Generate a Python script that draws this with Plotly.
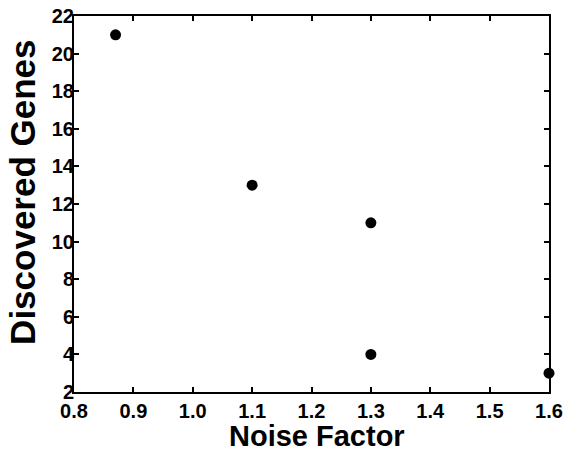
import plotly.graph_objects as go

noise_factor = [0.87, 1.1, 1.3, 1.3, 1.6]
discovered_genes = [21, 13, 11, 4, 3]

x_ticks = [0.8, 0.9, 1.0, 1.1, 1.2, 1.3, 1.4, 1.5, 1.6]
x_tick_labels = ["0.8", "0.9", "1.0", "1.1", "1.2", "1.3", "1.4", "1.5", "1.6"]
y_ticks = [2, 4, 6, 8, 10, 12, 14, 16, 18, 20, 22]

FONT = "Liberation Sans, Arial, sans-serif"

fig = go.Figure()
fig.add_trace(go.Scatter(
    x=noise_factor, y=discovered_genes, mode="markers",
    marker=dict(color="black", size=11, line=dict(width=0)),
    cliponaxis=False, showlegend=False,
))

axis_common = dict(
    showgrid=False, zeroline=False, showline=True, linecolor="black", linewidth=2,
    mirror="allticks", ticks="inside", ticklen=5, tickwidth=1.5, tickcolor="black",
    tickfont=dict(family=FONT, size=20, color="black", weight="bold"),
    automargin=False,
)

fig.update_xaxes(range=[0.8, 1.6], tickvals=x_ticks, ticktext=x_tick_labels, **axis_common)
fig.update_yaxes(range=[2, 22], tickvals=y_ticks, ticklabelstandoff=-6, **axis_common)

fig.add_annotation(
    text="<b>Noise Factor</b>", xref="paper", yref="paper",
    x=0.512, y=-0.117, xanchor="center", yanchor="middle", showarrow=False,
    font=dict(family=FONT, size=29, color="black"),
)
fig.add_annotation(
    text="<b>Discovered Genes</b>", xref="paper", yref="paper",
    x=-0.107, y=0.53, xanchor="center", yanchor="middle", showarrow=False,
    textangle=-90, font=dict(family=FONT, size=35, color="black"),
)

fig.update_layout(
    width=569, height=451,
    margin=dict(l=74, r=20, t=16, b=59),
    plot_bgcolor="white", paper_bgcolor="white",
)

fig.write_html(
    "out.html",
    config={"displayModeBar": False},
    post_script="document.body.style.margin='0';document.body.style.padding='0';",
)
